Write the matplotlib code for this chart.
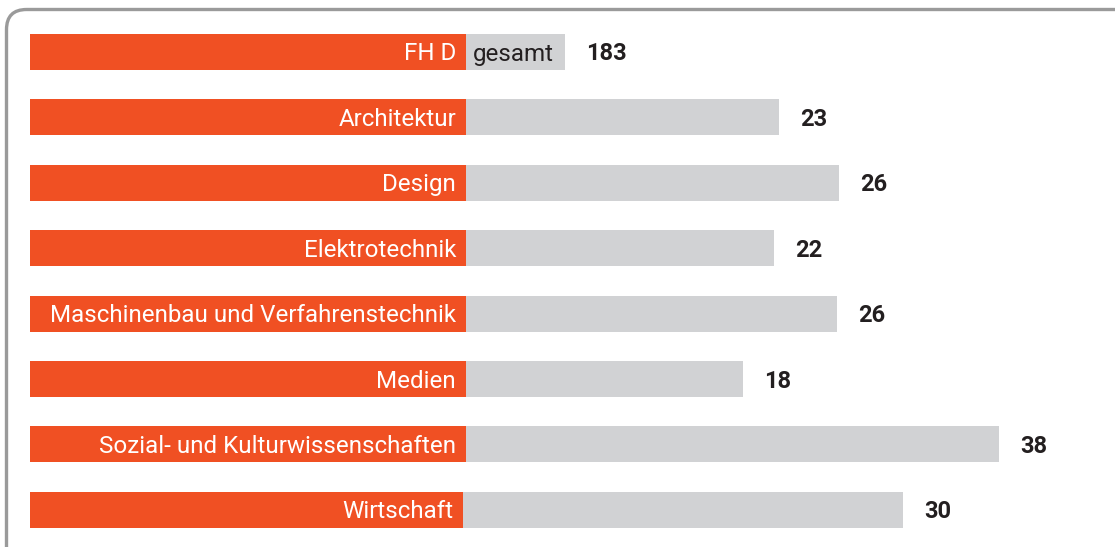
import matplotlib
matplotlib.use("Agg")
import matplotlib.pyplot as plt
from matplotlib.patches import FancyBboxPatch

categories = ["FH D", "Architektur", "Design", "Elektrotechnik",
              "Maschinenbau und Verfahrenstechnik", "Medien",
              "Sozial- und Kulturwissenschaften", "Wirtschaft"]
orange_len = [100, 100, 100, 100, 100, 100, 100, 99.3]
grey_len = [22.7, 71.8, 85.6, 70.6, 85.1, 63.5, 122.2, 100.9]
values = ["183", "23", "26", "22", "26", "18", "38", "30"]
grey_label = ["gesamt", "", "", "", "", "", "", ""]

ORANGE = "#F05023"
GREY = "#D1D2D4"
DARK = "#231F20"

W, H = 1115, 547
fig = plt.figure(figsize=(W / 100, H / 100), dpi=100)

px_per_unit = 4.36
row_px = 65.4
first_center = 52.0
left_px = 30
ax = fig.add_axes([left_px / W, 0, 1 - left_px / W, 1])
ax.set_xlim(0, (W - left_px) / px_per_unit)
ax.set_ylim((H - first_center) / row_px, -first_center / row_px)
ax.axis("off")

font = "Roboto"
fs = 17.4
base_off = -8.5
ys = list(range(len(categories)))
ax.barh(ys, orange_len, height=36 / row_px, color=ORANGE, left=0)
ax.barh(ys, grey_len, height=36 / row_px, color=GREY, left=orange_len)

for y, cat, o, g, v, gl in zip(ys, categories, orange_len, grey_len, values, grey_label):
    ax.annotate(cat, (o, y), xytext=(-10, base_off), textcoords="offset pixels",
                ha="right", va="baseline", color="white", fontsize=fs, family=font)
    if gl:
        ax.annotate(gl, (o, y), xytext=(7, base_off), textcoords="offset pixels",
                    ha="left", va="baseline", color=DARK, fontsize=fs, family=font)
    ax.annotate(v, (o + g, y), xytext=(21, base_off), textcoords="offset pixels",
                ha="left", va="baseline", color=DARK, fontsize=17, family=font,
                fontweight="bold")

# frame (top and left border with rounded corner)
frame = FancyBboxPatch((6.5 / W, -0.1), 1.2, 1.1 - 9.5 / H,
                       boxstyle="round,pad=0,rounding_size=0.018",
                       transform=fig.transFigure, fill=False,
                       edgecolor="#9A9A9A", linewidth=2.4, clip_on=False,
                       mutation_aspect=W / H)
fig.patches.append(frame)

fig.savefig("out.png", dpi=100)
